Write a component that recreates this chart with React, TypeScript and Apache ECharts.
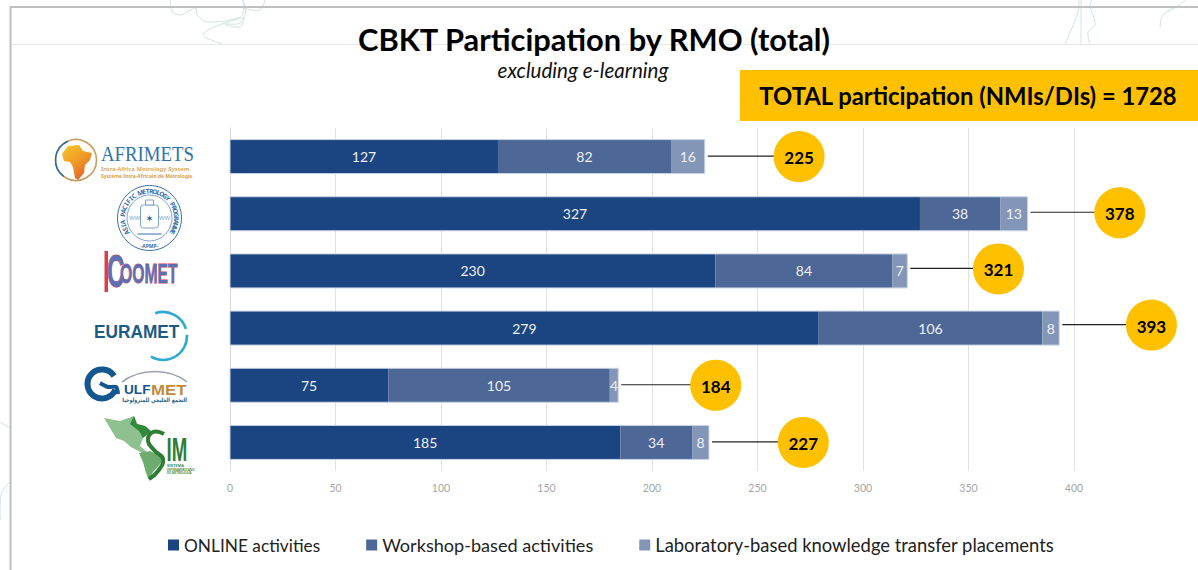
import React, { useEffect, useRef } from "react";
import * as echarts from "echarts";

const rmoNames = ["AFRIMETS", "APMP", "COOMET", "EURAMET", "GULFMET", "SIM"];
const onlineValues = [127, 327, 230, 279, 75, 185];
const workshopValues = [82, 38, 84, 106, 105, 34];
const labValues = [16, 13, 7, 8, 4, 8];
const totalValues = [225, 378, 321, 393, 184, 227];
const calloutCentres = [269.7, 421.7, 364.2, 436.7, 230.2, 271.7];
const xTicks = { min: 0, max: 400, interval: 50 };
const seriesNames = [
  "ONLINE activities",
  "Workshop-based activities",
  "Laboratory-based knowledge transfer placements",
];
const legendSizes = [17.3, 18.1, 18.4];
const FONT = "Lato, 'Open Sans', sans-serif";
const calloutLift = [0, -1, -2, -3, 0, 0];

function txt(text: string, x: number, y: number, fill: string, font: string, extra: any = {}) {
  const { align, stroke, lineWidth, ...rest } = extra;
  return {
    type: "text",
    x,
    y,
    silent: true,
    style: {
      text,
      fill,
      font,
      textAlign: align || "left",
      textVerticalAlign: "middle",
      ...(stroke ? { stroke, lineWidth } : {}),
    },
    ...rest,
  };
}

function scribble(points: number[][], color = "#cfe3dd") {
  return {
    type: "polyline",
    silent: true,
    shape: { points, smooth: 0.35 },
    style: { stroke: color, lineWidth: 1, fill: "none" },
  };
}

function frame() {
  return [
    { type: "line", silent: true, shape: { x1: 11, y1: 44.5, x2: 1198, y2: 44.5 }, style: { stroke: "#e9e9e9", lineWidth: 1 } },
    scribble([[170, 0], [172, 11], [180, 15], [196, 8], [197, 15], [209, 22], [240, 17], [244, 8], [243, 0]]),
    scribble([[242, 0], [246, 10], [240, 23], [225, 24], [240, 27], [243, 18], [203, 34], [222, 44]]),
    scribble([[243, 8], [260, 10], [265, 0]]),
    scribble([[1065, 44], [1078, 12], [1079, 0]]),
    scribble([[1081, 44], [1081, 0]]),
    scribble([[1090, 44], [1088, 32], [1095, 24], [1090, 6], [1092, 0]]),
    scribble([[1160, 28], [1163, 15], [1178, 6], [1186, 0]]),
    scribble([[0, 422], [10, 428]]),
    scribble([[10, 482], [2, 492], [0, 510], [1, 520]]),
    { type: "line", silent: true, shape: { x1: 10.5, y1: 7, x2: 10.5, y2: 570 }, style: { stroke: "#bfbfbf", lineWidth: 2 } },
    { type: "line", silent: true, shape: { x1: 10, y1: 7, x2: 1198, y2: 7 }, style: { stroke: "#bfbfbf", lineWidth: 2 } },
  ];
}

function afrimetsLogo() {
  return [
    { type: "circle", silent: true, shape: { cx: 76, cy: 160, r: 20.5 }, style: { fill: "none", stroke: "#c89a5a", lineWidth: 1.5 } },
    { type: "arc", silent: true, shape: { cx: 76, cy: 160, r: 20.5, startAngle: 2.2, endAngle: 4.3 }, style: { fill: "none", stroke: "#2c6ea8", lineWidth: 1.5 } },
    {
      type: "polygon",
      silent: true,
      shape: { points: [[68, 146], [79, 145], [83, 151], [92, 153], [90, 160], [85, 165], [84, 173], [78, 180], [75, 178], [73, 167], [70, 162], [64, 161], [62, 154]] },
      style: {
        fill: new echarts.graphic.LinearGradient(0, 0, 0.6, 1, [
          { offset: 0, color: "#f8c92b" },
          { offset: 0.55, color: "#f09a27" },
          { offset: 1, color: "#e4652a" },
        ]),
      },
    },
    txt("AFRIMETS", 101, 154, "#3272ab", "20px 'Liberation Serif', serif", { scaleX: 0.94 }),
    txt("Intra-Africa Metrology System", 101, 169, "#d9ad62", "bold 6px 'Noto Sans', sans-serif", { scaleX: 0.98 }),
    txt("Système Intra-Africain de Métrologie", 101, 175.5, "#d9a045", "bold 6px 'Noto Sans', sans-serif", { scaleX: 0.83 }),
  ];
}

function apmpLogo() {
  const cx = 149.5;
  const cy = 218;
  const blue = "#3a6fae";
  const ringText = "ASIA PACIFIC METROLOGY PROGRAMME";
  const letters = ringText.split("").map((ch, i) => {
    const a = -Math.PI * 1.18 + (i / (ringText.length - 1)) * Math.PI * 1.36;
    return {
      type: "text",
      silent: true,
      x: cx + 27 * Math.cos(a),
      y: cy + 27 * Math.sin(a),
      rotation: -(a + Math.PI / 2),
      style: { text: ch, fill: blue, font: "bold 6.5px 'Noto Sans', sans-serif", textAlign: "center", textVerticalAlign: "middle" },
    };
  });
  return [
    { type: "ellipse", silent: true, shape: { cx, cy, rx: 32, ry: 32.5 }, style: { fill: "#fff", stroke: blue, lineWidth: 1 } },
    { type: "ellipse", silent: true, shape: { cx, cy, rx: 22.5, ry: 23 }, style: { fill: "none", stroke: "#7fa3cf", lineWidth: 1 } },
    ...letters,
    txt("-APMP-", cx, cy + 28, blue, "bold 5px 'Noto Sans', sans-serif", { align: "center" }),
    { type: "rect", silent: true, shape: { x: cx - 9, y: cy - 13, width: 18, height: 23, r: 3 }, style: { fill: "#fff", stroke: "#7fa3cf", lineWidth: 1 } },
    { type: "rect", silent: true, shape: { x: cx - 4, y: cy - 18, width: 8, height: 5 }, style: { fill: "#fff", stroke: "#7fa3cf", lineWidth: 1 } },
    txt("WW", cx - 15, cy, "#7fa3cf", "6px 'Noto Sans', sans-serif", { align: "center" }),
    txt("WW", cx + 15, cy, "#7fa3cf", "6px 'Noto Sans', sans-serif", { align: "center" }),
    txt("✶", cx, cy, "#2a5fa3", "10px 'DejaVu Sans', sans-serif", { align: "center" }),
    { type: "rect", silent: true, shape: { x: cx - 12, y: cy + 15, width: 24, height: 2 }, style: { fill: "#9db6d6" } },
  ];
}

function coometLogo() {
  const red = "#d7404a";
  const letters = "bold 28px 'Liberation Sans', sans-serif";
  return [
    { type: "rect", silent: true, shape: { x: 104.5, y: 251, width: 3.5, height: 41 }, style: { fill: red } },
    txt("C", 107, 271, "#5d70b4", "bold 46px 'Liberation Sans', sans-serif", { scaleX: 0.52, stroke: red, lineWidth: 1 }),
    txt("OOMET", 120, 273, "#5d70b4", letters, { scaleX: 0.56, stroke: red, lineWidth: 0.8 }),
  ];
}

function eurametLogo() {
  const cyan = "#2ea9d2";
  return [
    txt("EURAMET", 94, 332, "#1c5b86", "bold 18px 'Liberation Sans', sans-serif", { scaleX: 0.96 }),
    { type: "arc", silent: true, shape: { cx: 163, cy: 336, r: 24, startAngle: -1.9, endAngle: -0.3 }, style: { fill: "none", stroke: cyan, lineWidth: 2.6 } },
    { type: "arc", silent: true, shape: { cx: 163, cy: 336, r: 24, startAngle: -0.05, endAngle: 2.1 }, style: { fill: "none", stroke: cyan, lineWidth: 2.6 } },
  ];
}

function gulfmetLogo() {
  const navy = "#135690";
  return [
    { type: "arc", silent: true, shape: { cx: 102, cy: 384, r: 14.5, startAngle: 0.4, endAngle: 5.7 }, style: { fill: "none", stroke: navy, lineWidth: 6 } },
    { type: "polyline", silent: true, shape: { points: [[100, 383], [108, 387], [116, 387], [118, 394]], smooth: 0.3 }, style: { fill: "none", stroke: navy, lineWidth: 4 } },
    { type: "bezierCurve", silent: true, shape: { x1: 122, y1: 382, cpx1: 140, cpy1: 368, cpx2: 170, cpy2: 368, x2: 187, y2: 382 }, style: { fill: "none", stroke: "#9aa3ad", lineWidth: 1.6 } },
    txt("ULF", 124, 390, navy, "bold 13px 'Liberation Sans', sans-serif", { scaleX: 1.05 }),
    txt("MET", 151, 390, "#bf8a3a", "bold 14px 'Liberation Sans', sans-serif", { scaleX: 1.2 }),
    txt("التجمع الخليجي للمترولوجيا", 187, 399.5, "#235a86", "bold 6px 'DejaVu Sans', sans-serif", { align: "right", scaleX: 0.8 }),
  ];
}

function simLogo() {
  const green = "#2f7d34";
  return [
    {
      type: "polygon",
      silent: true,
      shape: { points: [[104, 418], [120, 421], [134, 416], [137, 424], [145, 426], [151, 431], [143, 438], [140, 446], [147, 452], [142, 453], [131, 447], [124, 441], [116, 438], [110, 428]] },
      style: { fill: "#8fc08f" },
    },
    {
      type: "polygon",
      silent: true,
      shape: { points: [[134, 416], [137, 424], [145, 426], [151, 431], [143, 438], [139, 431], [130, 424]] },
      style: { fill: "#2f8a3a" },
    },
    {
      type: "polygon",
      silent: true,
      shape: { points: [[139, 453], [150, 451], [161, 456], [161, 463], [153, 472], [149, 480], [146, 473], [143, 462]] },
      style: { fill: "#6eab6e" },
    },
    {
      type: "polyline",
      silent: true,
      shape: { points: [[164, 434], [153, 432], [148, 441], [155, 451], [163, 459], [158, 471], [149, 479]], smooth: 0.5 },
      style: { fill: "none", stroke: green, lineWidth: 4 },
    },
    txt("IM", 166.5, 449, green, "bold 22px 'Liberation Sans', sans-serif", { scaleX: 0.85, scaleY: 1.55 }),
    txt("SISTEMA", 167, 465, "#4b8f50", "bold 4px 'Noto Sans', sans-serif"),
    txt("INTERAMERICANO", 167, 469.5, "#4b8f50", "bold 3px 'Noto Sans', sans-serif"),
    txt("DE METROLOGÍA", 167, 473, "#4b8f50", "bold 3px 'Noto Sans', sans-serif"),
  ];
}

function headings() {
  return [
    { type: "rect", silent: true, shape: { x: 740, y: 70, width: 458, height: 51 }, style: { fill: "#FFC000" } },
    txt("CBKT Participation by RMO (total)", 594, 39, "#000", `bold 30.85px ${FONT}`, { align: "center" }),
    txt("excluding e-learning", 583, 70, "#111", `italic 20.6px ${FONT}`, { align: "center" }),
    txt("TOTAL participation (NMIs/DIs) = 1728", 968, 96, "#000", `bold 23.8px ${FONT}`, { align: "center" }),
  ];
}

export default function App() {
  const ref = useRef<HTMLDivElement>(null);

  useEffect(() => {
    document.body.style.margin = "0";
    const chart = echarts.init(ref.current!, undefined, { renderer: "svg" });
    const barLabel = {
      show: true,
      position: "inside" as const,
      color: "#eef1f6",
      fontFamily: FONT,
      fontSize: 14,
    };
    const colors = ["#1B4580", "#4D6896", "#8496B8"];
    const values = [onlineValues, workshopValues, labValues];

    chart.setOption({
      animation: false,
      backgroundColor: "#ffffff",
      grid: { left: 230, top: 128, width: 844, height: 343, containLabel: false },
      legend: {
        data: seriesNames.map((name, i) => ({ name, textStyle: { fontSize: legendSizes[i] } })),
        left: 163,
        top: 531,
        itemWidth: 11,
        itemHeight: 11,
        itemGap: 46,
        icon: "rect",
        textStyle: { fontFamily: FONT, fontSize: 18, color: "#222" },
      },
      xAxis: {
        type: "value",
        min: xTicks.min,
        max: xTicks.max,
        interval: xTicks.interval,
        axisLine: { show: false },
        axisTick: { show: false },
        axisLabel: { color: "#a6a6a6", fontFamily: FONT, fontSize: 10.5, margin: 11 },
        splitLine: { show: true, lineStyle: { color: "#e2e2e2", width: 1 } },
      },
      yAxis: {
        type: "category",
        inverse: true,
        data: rmoNames,
        axisLine: { show: true, lineStyle: { color: "#d9d9d9", width: 1 } },
        axisTick: { show: false },
        axisLabel: { show: false },
      },
      series: [
        ...seriesNames.map((name, i) => ({
          name,
          type: "bar",
          stack: "total",
          barWidth: 34,
          data: values[i],
          itemStyle: { color: colors[i] },
          label: barLabel,
          z: 2,
        })),
        {
          name: "Total",
          type: "custom",
          z: 3,
          silent: true,
          encode: { x: 0, y: 1 },
          data: totalValues.map((t, i) => [t, i, calloutCentres[i], calloutLift[i]]),
          renderItem: (_p: any, api: any) => {
            const total = api.value(0);
            const row = api.value(1);
            const [xEnd, yMid] = api.coord([total, row]);
            const [xZero] = api.coord([0, row]);
            const [xCircle] = api.coord([api.value(2), row]);
            const yCircle = yMid + api.value(3);
            return {
              type: "group",
              children: [
                {
                  type: "rect",
                  shape: { x: xZero, y: yMid - 17, width: xEnd - xZero, height: 34 },
                  style: { fill: "none", stroke: "#c9d4e5", lineWidth: 1 },
                },
                {
                  type: "line",
                  shape: { x1: xEnd + 3, y1: yCircle - 0.5, x2: xCircle, y2: yCircle - 0.5 },
                  style: { stroke: "#222", lineWidth: 1.2 },
                },
                {
                  type: "circle",
                  shape: { cx: xCircle, cy: yCircle, r: 25.5 },
                  style: { fill: "#FFC000" },
                },
                {
                  type: "text",
                  x: xCircle,
                  y: yCircle + 1,
                  style: {
                    text: String(total),
                    fill: "#000",
                    font: `bold 17px ${FONT}`,
                    textAlign: "center",
                    textVerticalAlign: "middle",
                  },
                },
              ],
            };
          },
        },
      ],
      graphic: {
        elements: [
          ...frame(),
          ...afrimetsLogo(),
          ...apmpLogo(),
          ...coometLogo(),
          ...eurametLogo(),
          ...gulfmetLogo(),
          ...simLogo(),
          ...headings(),
        ],
      },
    });
    return () => chart.dispose();
  }, []);

  return <div ref={ref} style={{ width: 1198, height: 570, overflow: "hidden" }} />;
}
